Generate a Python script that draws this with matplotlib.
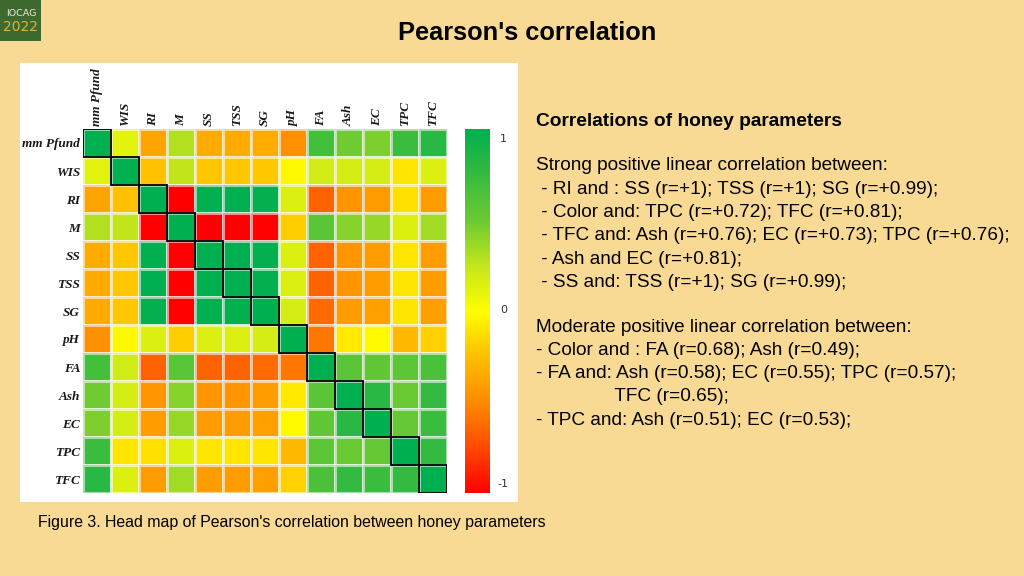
import numpy as np
import matplotlib
matplotlib.use('Agg')
import matplotlib.pyplot as plt
from matplotlib.colors import LinearSegmentedColormap
from matplotlib.patches import Rectangle

# parameters shown on the heat map
params = ['mm Pfund', 'WIS', 'RI', 'M', 'SS', 'TSS', 'SG', 'pH', 'FA', 'Ash', 'EC', 'TPC', 'TFC']

# Pearson r (symmetric)
corr = [
    [1.00, 0.12, -0.38, 0.30, -0.35, -0.35, -0.35, -0.48, 0.68, 0.49, 0.45, 0.72, 0.81],
    [0.12, 1.00, -0.25, 0.25, -0.22, -0.22, -0.22, -0.03, 0.20, 0.18, 0.18, -0.10, 0.15],
    [-0.38, -0.25, 1.00, -1.00, 1.00, 1.00, 0.99, 0.15, -0.65, -0.45, -0.42, -0.12, -0.42],
    [0.30, 0.25, -1.00, 1.00, -1.00, -1.00, -0.99, -0.20, 0.58, 0.42, 0.38, 0.15, 0.35],
    [-0.35, -0.22, 1.00, -1.00, 1.00, 1.00, 0.99, 0.15, -0.65, -0.45, -0.42, -0.10, -0.42],
    [-0.35, -0.22, 1.00, -1.00, 1.00, 1.00, 0.99, 0.15, -0.65, -0.45, -0.42, -0.10, -0.42],
    [-0.35, -0.22, 0.99, -0.99, 0.99, 0.99, 1.00, 0.18, -0.62, -0.42, -0.40, -0.10, -0.40],
    [-0.48, -0.03, 0.15, -0.20, 0.15, 0.15, 0.18, 1.00, -0.58, -0.08, -0.02, -0.28, -0.18],
    [0.68, 0.20, -0.65, 0.58, -0.65, -0.65, -0.62, -0.58, 1.00, 0.58, 0.55, 0.57, 0.65],
    [0.49, 0.18, -0.45, 0.42, -0.45, -0.45, -0.42, -0.08, 0.58, 1.00, 0.81, 0.51, 0.76],
    [0.45, 0.18, -0.42, 0.38, -0.42, -0.42, -0.40, -0.02, 0.55, 0.81, 1.00, 0.53, 0.73],
    [0.72, -0.10, -0.12, 0.15, -0.10, -0.10, -0.10, -0.28, 0.57, 0.51, 0.53, 1.00, 0.76],
    [0.81, 0.15, -0.42, 0.35, -0.42, -0.42, -0.40, -0.18, 0.65, 0.76, 0.73, 0.76, 1.00],
]

strong_lines = [
    'Strong positive linear correlation between:',
    ' - RI and : SS (r=+1); TSS (r=+1); SG (r=+0.99);',
    ' - Color and: TPC (r=+0.72); TFC (r=+0.81);',
    ' - TFC and: Ash (r=+0.76); EC (r=+0.73); TPC (r=+0.76);',
    ' - Ash and EC (r=+0.81);',
    ' - SS and: TSS (r=+1); SG (r=+0.99);',
]
moderate_lines = [
    'Moderate positive linear correlation between:',
    '- Color and : FA (r=0.68); Ash (r=0.49);',
    '- FA and: Ash (r=0.58); EC (r=0.55); TPC (r=0.57);',
    '               TFC (r=0.65);',
    '- TPC and: Ash (r=0.51); EC (r=0.53);',
]

W, H = 1024, 576
bg = '#F9DA94'


def fx(x):
    return x / W


def fy(y):
    return 1 - y / H


cmap = LinearSegmentedColormap.from_list('rg', [
    (0.0, '#FF0000'), (0.125, '#FF4A00'), (0.25, '#FF8C00'), (0.375, '#FFC000'),
    (0.5, '#FFFF00'), (0.625, '#C4E61C'), (0.75, '#6CCA32'), (0.9, '#2CB842'),
    (1.0, '#00B050')])

fig = plt.figure(figsize=(W / 100, H / 100), dpi=100, facecolor=bg)

# white panel behind the heat map
fig.patches.append(Rectangle((fx(20), fy(502)), fx(498), 439 / H, transform=fig.transFigure,
                             facecolor='white', edgecolor='none', zorder=-2))

# logo
fig.patches.append(Rectangle((0, fy(41)), fx(41), 41 / H, transform=fig.transFigure,
                             facecolor='#3E6A2F', edgecolor='none', zorder=-2))
fig.text(fx(21), fy(13), 'IOCAG', color='#EDEBD5', fontsize=6.8, ha='center', va='center',
         family='DejaVu Sans Condensed')
fig.text(fx(20), fy(27), '2022', color='#D8B53C', fontsize=10, ha='center', va='center',
         family='DejaVu Sans Condensed')

fig.text(fx(527), fy(33), "Pearson's correlation", fontsize=18.3, fontweight='bold',
         family='Liberation Sans', ha='center', va='center')

# heat map
n = len(params)
data = np.array(corr)
ax = fig.add_axes([fx(83), fy(493), fx(364), 364 / H])
ax.pcolormesh(np.arange(n + 1), np.arange(n + 1), data, cmap=cmap, vmin=-1, vmax=1,
              edgecolors=(1, 1, 1, 0.55), linewidth=0.8)
ax.set_xlim(0, n)
ax.set_ylim(n, 0)
for i in range(n):
    ax.add_patch(Rectangle((i, i), 1, 1, fill=False, edgecolor='black', linewidth=1.3, zorder=3))
ax.set_xticks(np.arange(n) + 0.5)
ax.set_yticks(np.arange(n) + 0.5)
ax.xaxis.tick_top()
ax.set_xticklabels(params, rotation=90, family='Liberation Serif', style='italic',
                   fontweight='bold', fontsize=9.5, color='#1a1a1a')
ax.set_yticklabels(params, family='Liberation Serif', style='italic',
                   fontweight='bold', fontsize=9.5, color='#1a1a1a')
ax.tick_params(length=0, pad=2)
for s in ax.spines.values():
    s.set_visible(False)

# colour bar
cax = fig.add_axes([fx(465), fy(493), fx(25), 364 / H])
grad = np.linspace(-1, 1, 256).reshape(-1, 1)
cax.imshow(grad, cmap=cmap, aspect='auto', origin='lower', extent=[0, 1, -1, 1])
cax.set_xticks([])
cax.set_yticks([])
for s in cax.spines.values():
    s.set_visible(False)
fig.text(fx(500), fy(139), '1', fontsize=8, color='#333333', family='DejaVu Sans', va='center')
fig.text(fx(500), fy(310), '0', fontsize=8, color='#333333', family='DejaVu Sans', va='center')
fig.text(fx(497), fy(484), '-1', fontsize=8, color='#333333', family='DejaVu Sans', va='center')

# notes on the right
fig.text(fx(536), fy(121), 'Correlations of honey parameters', fontsize=13.8, fontweight='bold',
         family='Liberation Sans', va='center')
step = 23.3
for k, line in enumerate(strong_lines):
    fig.text(fx(536), fy(166 + k * step), line, fontsize=13.7, family='Liberation Sans', va='center')
for k, line in enumerate(moderate_lines):
    fig.text(fx(536), fy(327 + k * step), line, fontsize=13.7, family='Liberation Sans', va='center')

fig.text(fx(38), fy(522), "Figure 3. Head map of Pearson's correlation between honey parameters",
         fontsize=11.4, family='Liberation Sans', va='center')

fig.savefig('out.png', dpi=100, facecolor=bg)
